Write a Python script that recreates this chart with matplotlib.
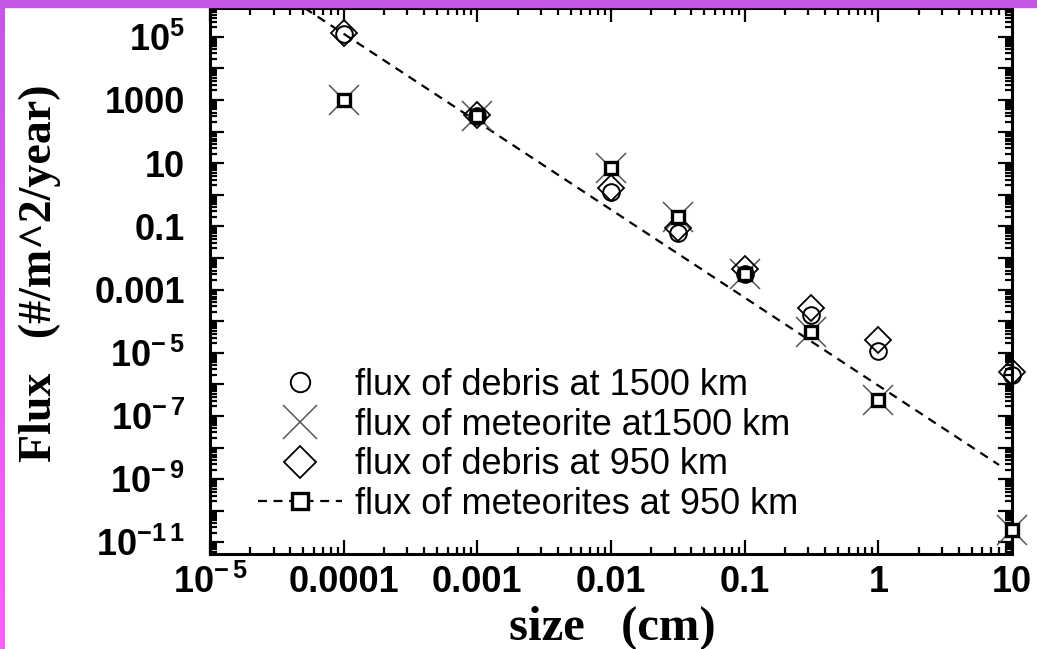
import numpy as np
import matplotlib
matplotlib.use('Agg')
import matplotlib.pyplot as plt
from matplotlib.lines import Line2D
from matplotlib.patches import Rectangle
from matplotlib.ticker import LogLocator, NullFormatter

plt.rcParams['font.family'] = ['Liberation Sans', 'DejaVu Sans']
plt.rcParams['mathtext.fontset'] = 'custom'
plt.rcParams['mathtext.bf'] = 'Liberation Sans:bold'
plt.rcParams['mathtext.rm'] = 'Liberation Sans:bold'

# particle size (cm)
size_cm = [1e-4, 1e-3, 1e-2, 3.16e-2, 1e-1, 3.16e-1, 1.0, 10.0]

# flux values (#/m^2/year)
debris_1500 = [1.2e5, 3.2e2, 1.2, 6.0e-2, 3.0e-3, 1.6e-4, 1.1e-5, 2.0e-6]
meteor_1500 = [1.0e3, 3.2e2, 7.0, 2.0e-1, 3.2e-3, 4.6e-5, 3.2e-7, 2.5e-11]
debris_950 = [1.3e5, 3.4e2, 1.6, 9.0e-2, 4.5e-3, 2.6e-4, 2.5e-5, 2.5e-6]
meteor_950 = [1.0e3, 3.2e2, 7.0, 2.0e-1, 3.2e-3, 4.6e-5, 3.2e-7, 2.5e-11]

# straight power-law guide (dashed)
fit_x = [5.1e-5, 8.0]
fit_y = [8.1e5, 2.8e-9]

xticks = [1e-5, 1e-4, 1e-3, 1e-2, 1e-1, 1, 10]
xlabels = [r'$\mathbf{10^{-\,5}}$', '0.0001', '0.001', '0.01', '0.1', '1', '10']
yticks = [10.0**k for k in range(-11, 6)]
ylabels = {5: r'$\mathbf{10^{5}}$', 3: '1000', 1: '10', -1: '0.1', -3: '0.001',
           -5: r'$\mathbf{10^{-\,5}}$', -7: r'$\mathbf{10^{-\,7}}$',
           -9: r'$\mathbf{10^{-\,9}}$', -11: r'$\mathbf{10^{-1\,1}}$'}

legend_labels = ['flux of debris at 1500 km', 'flux of meteorite at1500 km',
                 'flux of debris at 950 km', 'flux of meteorites at 950 km']

W, H = 1037, 649
fig = plt.figure(figsize=(W/100, H/100), dpi=100, facecolor='white')
ax = fig.add_axes([210/W, 1-554/H, 802/W, 546/H])

ax.plot(fit_x, fit_y, color='black', lw=1.6, ls=(0, (4, 3)), zorder=2)
ax.plot(size_cm, meteor_1500, ls='none', marker='x', ms=22, mew=1.1, color='#555555',
        zorder=3, clip_on=False)
ax.plot(size_cm, debris_1500, ls='none', marker='o', ms=12, mfc='none', mec='black',
        mew=1.4, zorder=4, clip_on=False)
ax.plot(size_cm, debris_950, ls='none', marker='D', ms=13, mfc='none', mec='black',
        mew=1.3, zorder=4, clip_on=False)
ax.plot(size_cm, meteor_950, ls='none', marker='s', ms=8.5, mfc='white', mec='black',
        mew=2.4, zorder=5, clip_on=False)

ax.set_xscale('log')
ax.set_yscale('log')
ax.set_xlim(1e-5, 10)
ax.set_ylim(10**-11.37, 10**5.91)

ax.set_xticks(xticks)
ax.set_xticklabels(xlabels)
ax.set_yticks(yticks)
ax.set_yticklabels([ylabels.get(k, '') for k in range(-11, 6)])
ax.xaxis.set_minor_locator(LogLocator(base=10, subs=np.arange(2, 10), numticks=50))
ax.yaxis.set_minor_locator(LogLocator(base=10, subs=np.arange(2, 10), numticks=50))
ax.xaxis.set_minor_formatter(NullFormatter())
ax.yaxis.set_minor_formatter(NullFormatter())

ax.tick_params(which='both', direction='in', top=True, right=True, width=1.6)
ax.tick_params(which='major', length=10)
ax.tick_params(which='minor', length=5)
ax.tick_params(axis='x', which='major', pad=8, labelsize=26)
ax.tick_params(axis='y', which='major', pad=18, labelsize=26)
for lab in ax.get_xticklabels() + ax.get_yticklabels():
    lab.set_fontweight('bold')
for sp in ax.spines.values():
    sp.set_linewidth(2.2)

fig.text(612/W, 1-628/H, 'size   (cm)', ha='center', va='center',
         family='Liberation Serif', weight='bold', fontsize=35)
fig.text(40/W, 1-273/H, 'Flux   (#/m^2/year)', ha='center', va='center', rotation=90,
         family='Liberation Serif', weight='bold', fontsize=33)

handles = [
    Line2D([], [], ls='none', marker='o', ms=14, mfc='none', mec='black', mew=1.4),
    Line2D([], [], ls='none', marker='x', ms=25, mew=1.1, color='#555555'),
    Line2D([], [], ls='none', marker='D', ms=16, mfc='none', mec='black', mew=1.3),
    Line2D([], [], color='black', lw=1.6, ls=(0, (4, 3)), marker='s', ms=11,
           mfc='white', mec='black', mew=2.4),
]
ax.legend(handles, legend_labels, loc='upper left', bbox_to_anchor=(0.06, 0.341),
          frameon=False, fontsize=26, handlelength=2.33, handletextpad=0.36,
          labelspacing=0.13, borderpad=0, borderaxespad=0)

# magenta frame
fig.patches.append(Rectangle((0, 1-7/H), 1, 7/H, transform=fig.transFigure,
                             color='#C456E8', zorder=10))
grad = np.linspace(0, 1, 256)[:, None]
cols = np.zeros((256, 1, 3))
top_c = np.array([200, 85, 232]) / 255
bot_c = np.array([255, 96, 255]) / 255
cols[:, 0, :] = top_c + (bot_c - top_c) * grad
bax = fig.add_axes([0, 0, 5/W, 1-7/H])
bax.imshow(cols, aspect='auto')
bax.axis('off')

fig.savefig('out.png', dpi=100, facecolor='white')
